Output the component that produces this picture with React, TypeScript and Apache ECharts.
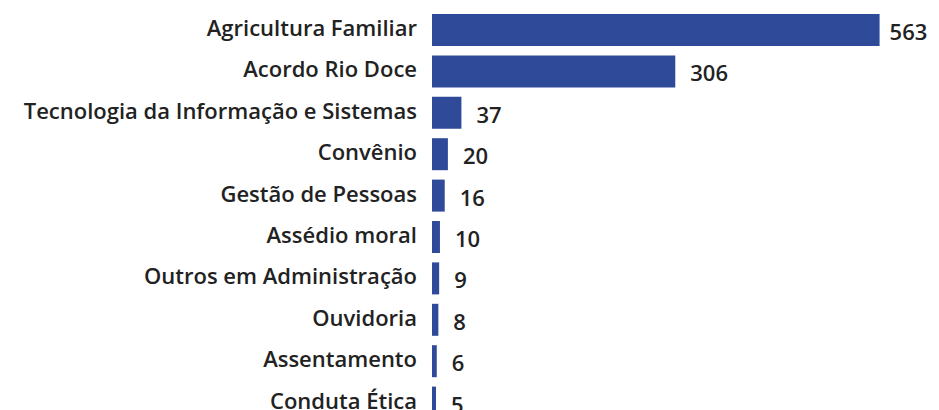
import React, { useEffect, useRef } from "react";
import * as echarts from "echarts";

const categories = [
  "Agricultura Familiar",
  "Acordo Rio Doce",
  "Tecnologia da Informação e Sistemas",
  "Convênio",
  "Gestão de Pessoas",
  "Assédio moral",
  "Outros em Administração",
  "Ouvidoria",
  "Assentamento",
  "Conduta Ética",
];
const values = [563, 306, 37, 20, 16, 10, 9, 8, 6, 5];

export default function App() {
  const ref = useRef<HTMLDivElement>(null);
  useEffect(() => {
    document.body.style.margin = "0";
    const chart = echarts.init(ref.current!, null, { renderer: "svg" });
    chart.setOption({
      animation: false,
      grid: { left: 432, top: 9.3, height: 414, width: 477, containLabel: false },
      xAxis: { type: "value", min: 0, max: 600, show: false },
      yAxis: {
        type: "category",
        inverse: true,
        data: categories,
        axisLine: { show: false },
        axisTick: { show: false },
        splitLine: { show: false },
        axisLabel: {
          margin: 15,
          formatter: (v: string) => `{a|${v}}`,
          rich: {
            a: {
              color: "#222222",
              fontFamily: "Open Sans",
              fontWeight: 600,
              fontSize: 22,
              lineHeight: 28,
              verticalAlign: "top",
            },
          },
        },
      },
      series: [
        {
          type: "bar",
          data: values.map((v, i) => ({
            value: v,
            label: i === 0 ? { distance: 10 } : undefined,
          })),
          barCategoryGap: "22.7%",
          itemStyle: { color: "#2F4A99" },
          label: {
            show: true,
            position: "right",
            distance: 15,
            color: "#222222",
            fontFamily: "Open Sans",
            fontWeight: 600,
            fontSize: 22,
            offset: [0, 1],
          },
        },
      ],
    });
    return () => chart.dispose();
  }, []);
  return (
    <div style={{ width: 939, height: 410, overflow: "hidden" }}>
      <div ref={ref} style={{ width: 939, height: 424 }} />
    </div>
  );
}
